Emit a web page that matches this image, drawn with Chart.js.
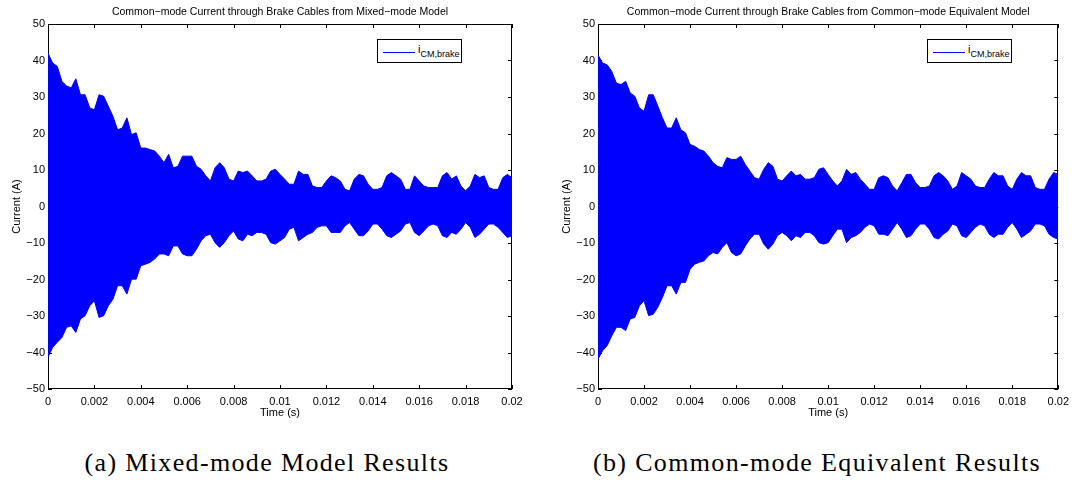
<!DOCTYPE html>
<html>
<head>
<meta charset="utf-8">
<script src="https://cdn.jsdelivr.net/npm/chart.js@4.4.0/dist/chart.umd.min.js"></script>
<style>
  body { margin:0; background:#fff; width:1075px; height:485px; position:relative; overflow:hidden; font-family:"Liberation Sans", Arial, sans-serif; }
  canvas { position:absolute; top:0; }
  #chartMixed { left:0; }
  #chartEquiv { left:550px; }
  .legend { position:absolute; top:39px; width:85px; height:24px; border:1px solid #000; background:#fff; box-sizing:border-box; }
  .legend .lline { position:absolute; left:5px; top:12px; width:32px; height:1px; background:#0000ff; }
  .legend .ltxt { position:absolute; left:40px; top:3px; font-size:11px; line-height:12px; color:#000; white-space:nowrap; }
  .legend sub { font-size:9px; vertical-align:-4px; }
  .caption { position:absolute; top:450px; font-family:"Liberation Serif", "Times New Roman", serif; font-size:26px; line-height:26px; letter-spacing:1.35px; white-space:nowrap; color:#000; transform:translateX(-50%); }
</style>
</head>
<body>
<canvas id="chartMixed" width="540" height="425"></canvas>
<canvas id="chartEquiv" width="525" height="425"></canvas>

<div class="legend" style="left:377px"><span class="lline"></span><span class="ltxt">i<sub>CM,brake</sub></span></div>
<div class="legend" style="left:927px"><span class="lline"></span><span class="ltxt">i<sub>CM,brake</sub></span></div>

<div class="caption" style="left:267px">(a) Mixed-mode Model Results</div>
<div class="caption" style="left:817px">(b) Common-mode Equivalent Results</div>

<script>
// envelope of i_CM,brake (A), read every 0.2 ms
const timeS = [
  0, 0.0002, 0.0004, 0.0006, 0.0008, 0.001, 0.0012, 0.0014, 0.0016, 0.0018,
  0.002, 0.0022, 0.0024, 0.0026, 0.0028, 0.003, 0.0032, 0.0034, 0.0036, 0.0038,
  0.004, 0.0042, 0.0044, 0.0046, 0.0048, 0.005, 0.0052, 0.0054, 0.0056, 0.0058,
  0.006, 0.0062, 0.0064, 0.0066, 0.0068, 0.007, 0.0072, 0.0074, 0.0076, 0.0078,
  0.008, 0.0082, 0.0084, 0.0086, 0.0088, 0.009, 0.0092, 0.0094, 0.0096, 0.0098,
  0.01, 0.0102, 0.0104, 0.0106, 0.0108, 0.011, 0.0112, 0.0114, 0.0116, 0.0118,
  0.012, 0.0122, 0.0124, 0.0126, 0.0128, 0.013, 0.0132, 0.0134, 0.0136, 0.0138,
  0.014, 0.0142, 0.0144, 0.0146, 0.0148, 0.015, 0.0152, 0.0154, 0.0156, 0.0158,
  0.016, 0.0162, 0.0164, 0.0166, 0.0168, 0.017, 0.0172, 0.0174, 0.0176, 0.0178,
  0.018, 0.0182, 0.0184, 0.0186, 0.0188, 0.019, 0.0192, 0.0194, 0.0196, 0.0198,
  0.02
];

const mixedUpper = [
  42, 39.3, 38.4, 34.3, 33, 32.5, 35, 30.6, 30.6, 27,
  26.5, 30.6, 30.2, 27.5, 24.7, 21, 21.5, 24.3, 19.7, 20.2,
  16, 16, 15.6, 15.2, 13.8, 12, 14.3, 10.6, 11, 13.8,
  13.8, 13.8, 11, 10.2, 8.4, 7, 10.6, 12, 10.6, 7.5,
  7, 9.7, 9.3, 9.7, 8.4, 7, 7, 7.5, 9.7, 10.2,
  8.8, 7.5, 6.1, 6.1, 9.7, 8.8, 8.8, 5.6, 5.2, 5.2,
  7, 8.4, 7.9, 7, 4.7, 4.3, 7.5, 8.8, 8.4, 6.1,
  4.7, 4.7, 5.2, 8.4, 9.3, 8.4, 7.5, 4.7, 4.7, 8.4,
  7, 5.6, 5.2, 5.2, 5.2, 8.4, 9.3, 7.5, 8.4, 5.6,
  4.3, 5.6, 8.8, 7.9, 8.4, 5.2, 4.7, 4.7, 7.9, 8.8,
  7.9
];
const mixedLower = [
  -41.3, -38.6, -37.2, -35.9, -33.1, -32.7, -34.5, -30.8, -29.9, -27.2,
  -25.8, -30.4, -29.9, -27.2, -25.4, -21.7, -21.7, -24, -19.9, -19.9,
  -16.2, -15.8, -15.3, -14.4, -13, -13, -13.5, -10.8, -10.8, -13,
  -13.5, -13.5, -11.7, -9.4, -8, -7.6, -9.9, -11.2, -9.9, -8,
  -6.7, -8.9, -9.4, -7.6, -8, -7.1, -7.1, -7.6, -9.9, -10.3,
  -9.4, -8.5, -6.2, -5.7, -9.4, -8.5, -7.6, -7.1, -5.7, -5.3,
  -5.3, -7.1, -7.1, -7.1, -5.3, -4.4, -6.2, -8, -8, -6.7,
  -4.8, -4.8, -6.2, -8, -8.5, -7.6, -6.7, -4.8, -4.4, -7.1,
  -8, -6.7, -5.3, -4.8, -5.3, -8, -8.5, -7.1, -7.6, -6.2,
  -4.4, -5.7, -8.5, -7.6, -6.2, -4.8, -4.8, -5.7, -7.1, -8.5,
  -8
];

const equivUpper = [
  41.5, 39.3, 38.8, 37, 33.8, 33.4, 34.3, 31.1, 30.2, 27,
  26.1, 30.6, 30.6, 27.5, 24.3, 21.5, 21.5, 24.3, 21, 20.2,
  17, 16.5, 15.6, 15.2, 13.8, 12, 11, 10.6, 13.4, 12.9,
  12.9, 13.8, 11.5, 9.7, 7.9, 7.5, 10.2, 12, 11, 7.5,
  7, 8.4, 9.7, 8.4, 8.8, 7.5, 7.5, 7.9, 10.2, 10.6,
  8.8, 7, 5.6, 7, 10.2, 8.8, 9.3, 7.5, 6.1, 4.7,
  4.7, 7.9, 8.4, 7.9, 5.6, 4.3, 6.5, 8.8, 8.8, 6.5,
  5.2, 5.2, 5.6, 8.4, 9.3, 8.4, 7, 4.7, 5.6, 9.3,
  8.4, 7.5, 5.6, 5.2, 5.2, 7.5, 9.3, 8.4, 8.4, 5.6,
  4.7, 7.5, 9.3, 8.4, 8.4, 5.2, 4.7, 4.7, 7.5, 9.3,
  8.8
];
const equivLower = [
  -41.8, -39.5, -38.1, -35.4, -33.1, -33.1, -34, -30.8, -30.4, -27.2,
  -25.8, -29.9, -29.5, -27.6, -24.9, -21.7, -21.7, -24, -20.8, -20.8,
  -17.2, -15.8, -15.3, -14.9, -13.5, -12.6, -13, -11.2, -9.9, -12.6,
  -13.5, -13, -10.8, -8.9, -7.6, -7.6, -10.3, -11.7, -10.3, -8,
  -7.1, -8, -9.4, -8, -8.5, -7.1, -7.1, -8, -9.9, -10.3,
  -9.9, -8, -6.2, -6.2, -9.9, -8.5, -8, -7.1, -5.7, -4.8,
  -5.3, -7.6, -7.6, -8, -6.2, -4.4, -6.2, -8.5, -8, -6.2,
  -4.8, -4.8, -6.2, -8.5, -8.9, -7.6, -6.7, -4.8, -5.3, -8,
  -8.5, -7.1, -5.7, -4.8, -5.3, -7.6, -8.5, -7.6, -7.6, -5.7,
  -4.4, -6.2, -8.5, -7.6, -6.7, -4.8, -4.8, -5.3, -7.6, -8.5,
  -8.9
];

const xTicks = [0, 0.002, 0.004, 0.006, 0.008, 0.01, 0.012, 0.014, 0.016, 0.018, 0.02];
const yTicks = [-50, -40, -30, -20, -10, 0, 10, 20, 30, 40, 50];

const FONT = '"Liberation Sans", Arial, sans-serif';

// MATLAB-like box with inward ticks on all four sides
const matlabBox = {
  id: 'matlabBox',
  beforeDatasetsDraw(chart) {
    const { ctx, chartArea: a, scales: { x, y } } = chart;
    const L = 4;
    ctx.save();
    ctx.strokeStyle = '#000';
    ctx.lineWidth = 1;
    ctx.beginPath();
    x.ticks.forEach(t => {
      const px = Math.round(x.getPixelForValue(t.value)) + 0.5;
      ctx.moveTo(px, a.bottom); ctx.lineTo(px, a.bottom - L);
      ctx.moveTo(px, a.top); ctx.lineTo(px, a.top + L);
    });
    y.ticks.forEach(t => {
      const py = Math.round(y.getPixelForValue(t.value)) + 0.5;
      ctx.moveTo(a.left, py); ctx.lineTo(a.left + L, py);
      ctx.moveTo(a.right, py); ctx.lineTo(a.right - L, py);
    });
    ctx.stroke();
    ctx.strokeRect(Math.round(a.left) + 0.5, Math.round(a.top) + 0.5,
                   Math.round(a.width) - 1, Math.round(a.height) - 1);
    ctx.restore();
  }
};

function makeChart(id, title, upper, lower, padRight) {
  const pts = arr => arr.map((v, i) => ({ x: timeS[i], y: v }));
  const series = { borderColor: '#0000ff', backgroundColor: '#0000ff', borderWidth: 1, pointRadius: 0, tension: 0 };
  return new Chart(document.getElementById(id).getContext('2d'), {
    type: 'line',
    data: {
      datasets: [
        { ...series, label: 'upper', data: pts(upper), fill: '+1' },
        { ...series, label: 'lower', data: pts(lower), fill: false }
      ]
    },
    options: {
      responsive: false,
      animation: false,
      events: [],
      layout: { padding: { left: 0, right: padRight, top: 0, bottom: 0 } },
      plugins: {
        legend: { display: false },
        tooltip: { enabled: false },
        title: {
          display: true, text: title, fullSize: false, color: '#000',
          font: { family: FONT, size: 10.5, weight: 'normal' },
          padding: { top: 6, bottom: 5.4 }
        }
      },
      scales: {
        x: {
          type: 'linear', min: 0, max: 0.02,
          afterBuildTicks: s => { s.ticks = xTicks.map(v => ({ value: v })); },
          afterFit: s => { s.height = 36; },
          grid: { display: false, drawTicks: false },
          border: { display: false },
          ticks: {
            color: '#000', padding: 6, maxRotation: 0, autoSkip: false,
            font: { family: FONT, size: 11 },
            callback: v => String(+v.toFixed(4))
          },
          title: { display: true, text: 'Time (s)', color: '#000', font: { family: FONT, size: 11 }, padding: { top: 0, bottom: 5 } }
        },
        y: {
          type: 'linear', min: -50, max: 50,
          afterBuildTicks: s => { s.ticks = yTicks.map(v => ({ value: v })); },
          afterFit: s => { s.width = 48; },
          grid: { display: false, drawTicks: false },
          border: { display: false },
          ticks: {
            color: '#000', padding: 3, autoSkip: false,
            font: { family: FONT, size: 11 },
            callback: v => v < 0 ? '\u2212' + Math.abs(v) : String(v)
          },
          title: { display: true, text: 'Current (A)', color: '#000', font: { family: FONT, size: 11 }, padding: { top: 10, bottom: 0 } }
        }
      }
    },
    plugins: [matlabBox]
  });
}

makeChart('chartMixed', 'Common\u2212mode Current through Brake Cables from Mixed\u2212mode Model', mixedUpper, mixedLower, 28);
makeChart('chartEquiv', 'Common\u2212mode Current through Brake Cables from Common\u2212mode Equivalent Model', equivUpper, equivLower, 13);
</script>
</body>
</html>
